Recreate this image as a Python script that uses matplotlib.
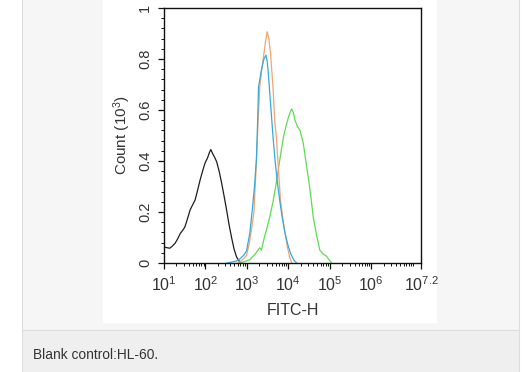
import numpy as np
import matplotlib
matplotlib.use("Agg")
import matplotlib.pyplot as plt
from matplotlib.patches import Rectangle
from matplotlib.ticker import FixedLocator, FixedFormatter, MultipleLocator

plt.rcParams['font.family'] = ['Liberation Sans', 'DejaVu Sans']
plt.rcParams['mathtext.default'] = 'regular'

# ---- data (log10 of FITC-H, count in 10^3) ----
black_log = [1.00, 1.07, 1.14, 1.20, 1.27, 1.33, 1.39, 1.45, 1.50, 1.56, 1.63, 1.69, 1.75, 1.81,
             1.87, 1.93, 1.99, 2.05, 2.10, 2.13, 2.17, 2.22, 2.27, 2.33, 2.39, 2.45, 2.51, 2.57,
             2.63, 2.69, 2.75, 2.81, 2.87]
black_cnt = [0.063, 0.060, 0.058, 0.066, 0.078, 0.095, 0.115, 0.128, 0.140, 0.170, 0.208, 0.228,
             0.247, 0.285, 0.325, 0.360, 0.392, 0.412, 0.435, 0.445, 0.430, 0.415, 0.397, 0.360,
             0.314, 0.262, 0.208, 0.150, 0.100, 0.055, 0.024, 0.008, 0.0]

blue_log = [2.52, 2.65, 2.75, 2.83, 2.92, 2.99, 3.07, 3.13, 3.19, 3.23, 3.26, 3.28, 3.35, 3.41,
            3.46, 3.49, 3.51, 3.57, 3.63, 3.68, 3.74, 3.79, 3.86, 3.92, 3.99, 4.06, 4.13, 4.20]
blue_cnt = [0.0, 0.004, 0.008, 0.016, 0.030, 0.047, 0.117, 0.208, 0.314, 0.410, 0.560, 0.690,
            0.757, 0.800, 0.815, 0.790, 0.757, 0.627, 0.495, 0.400, 0.310, 0.247, 0.170, 0.117,
            0.070, 0.035, 0.012, 0.0]

orange_log = [2.78, 2.86, 2.93, 2.99, 3.05, 3.11, 3.17, 3.23, 3.27, 3.29, 3.31, 3.36, 3.41,
              3.45, 3.49, 3.53, 3.57, 3.63, 3.67, 3.71, 3.76, 3.81, 3.87, 3.92, 3.98, 4.03, 4.08]
orange_cnt = [0.0, 0.008, 0.018, 0.030, 0.070, 0.130, 0.200, 0.400, 0.560, 0.620, 0.690, 0.760,
              0.820, 0.870, 0.907, 0.880, 0.820, 0.690, 0.560, 0.495, 0.370, 0.247, 0.170, 0.117,
              0.060, 0.025, 0.0]

green_log = [2.83, 2.95, 3.07, 3.20, 3.31, 3.35, 3.42, 3.49, 3.55, 3.63, 3.71, 3.77, 3.83, 3.89,
             3.94, 4.00, 4.04, 4.08, 4.12, 4.16, 4.22, 4.28, 4.36, 4.43, 4.50, 4.55, 4.60, 4.68,
             4.76, 4.84, 4.92, 5.04]
green_cnt = [0.0, 0.006, 0.013, 0.035, 0.060, 0.050, 0.100, 0.141, 0.180, 0.240, 0.314, 0.380,
             0.443, 0.500, 0.535, 0.570, 0.590, 0.604, 0.590, 0.560, 0.535, 0.520, 0.470, 0.390,
             0.314, 0.250, 0.180, 0.110, 0.050, 0.035, 0.027, 0.0]

xtick_exp = [1, 2, 3, 4, 5, 6, 7.2]
xtick_labels = ['$10^1$', '$10^2$', '$10^3$', '$10^4$', '$10^5$', '$10^6$', '$10^{7.2}$']
ytick_vals = [0, 0.2, 0.4, 0.6, 0.8, 1]
ytick_labels = ['0', '0.2', '0.4', '0.6', '0.8', '1']
caption = 'Blank control:HL-60.'

W, H = 529, 372
fig = plt.figure(figsize=(W / 100, H / 100), dpi=100)
fig.patch.set_facecolor('white')

def frect(x0, y0, x1, y1, fc, ec='none', lw=0, z=-10):
    # pixel coords, y from top
    r = Rectangle((x0 / W, 1 - y1 / H), (x1 - x0) / W, (y1 - y0) / H,
                  transform=fig.transFigure, facecolor=fc, edgecolor=ec, linewidth=lw, zorder=z)
    fig.patches.append(r)

# page panels
frect(22, -2, 519, 330, '#f5f6f5', ec='#dcdedc', lw=0.8)
frect(22, 330, 519, 374, '#eeefee', ec='#dcdedc', lw=0.8)
frect(103, -2, 437, 323, 'white')

fig.text(33 / W, 1 - 355 / H, caption, fontsize=9.9, color='#333333', va='center', ha='left')

ax = fig.add_axes([164 / W, 1 - 263 / H, (421 - 164) / W, (263 - 8) / H])
ax.set_zorder(5)
ax.set_facecolor('white')

lw = 0.9
ax.plot(10 ** np.array(black_log), black_cnt, color='#1e1e1e', lw=lw)
ax.plot(10 ** np.array(green_log), green_cnt, color='#5edc55', lw=lw)
ax.plot(10 ** np.array(orange_log), orange_cnt, color='#eea672', lw=lw)
ax.plot(10 ** np.array(blue_log), blue_cnt, color='#35aad8', lw=lw)

ax.set_xscale('log')
ax.set_xlim(10 ** 1, 10 ** 7.2)
ax.set_ylim(0, 1)

ax.xaxis.set_major_locator(FixedLocator([10 ** e for e in xtick_exp]))
ax.xaxis.set_major_formatter(FixedFormatter(xtick_labels))
minors = [m * 10 ** d for d in range(1, 8) for m in range(2, 10) if m * 10 ** d < 10 ** 7.2]
minors.append(10 ** 7)
ax.xaxis.set_minor_locator(FixedLocator(minors))
ax.xaxis.set_minor_formatter(FixedFormatter([]))

ax.yaxis.set_major_locator(FixedLocator(ytick_vals))
ax.yaxis.set_major_formatter(FixedFormatter(ytick_labels))
ax.yaxis.set_minor_locator(MultipleLocator(0.04))

for s in ax.spines.values():
    s.set_linewidth(1.0)
    s.set_color('#111111')

ax.tick_params(axis='both', which='major', direction='out', length=4.5, width=0.9,
               colors='#111111', labelcolor='#333333')
ax.tick_params(axis='both', which='minor', direction='out', length=2.5, width=0.7, colors='#111111')
ax.tick_params(axis='x', which='major', labelsize=11.5, pad=4)
ax.tick_params(axis='y', which='major', labelsize=10.5, pad=4)
for lab in ax.get_yticklabels():
    lab.set_rotation(90)
    lab.set_va('center')

ax.set_xlabel('FITC-H', fontsize=11.5, color='#333333', labelpad=7)
ax.set_ylabel('Count (10$^3$)', fontsize=11, color='#333333', labelpad=4)

fig.savefig('out.png', dpi=100, facecolor=fig.get_facecolor())
